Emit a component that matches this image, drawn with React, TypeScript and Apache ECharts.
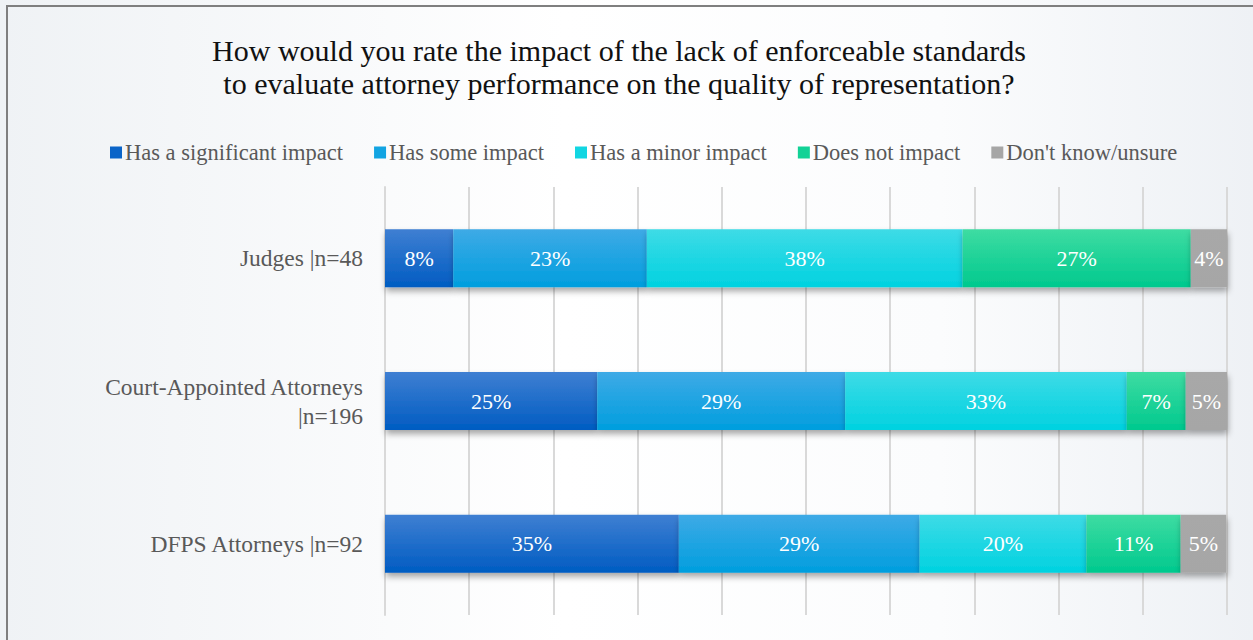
import React, { useEffect, useRef } from "react";
import * as echarts from "echarts";

const categories = ["Judges |n=48", "Court-Appointed Attorneys\n|n=196", "DFPS Attorneys |n=92"];
const seriesNames = ["Has a significant impact", "Has some impact", "Has a minor impact", "Does not impact", "Don't know/unsure"];
const significant = [8.1, 25.2, 34.9];
const some = [23.0, 29.45, 28.6];
const minor = [37.5, 33.45, 19.8];
const notImpact = [27.1, 7.0, 11.2];
const unsure = [4.3, 4.9, 5.4];
const seriesValues = [significant, some, minor, notImpact, unsure];
const titleLines = ["How would you rate the impact of the lack of enforceable standards", "to evaluate attorney performance on the quality of representation?"];

const colorsTop = ["#3f7fd2", "#3eaae6", "#3edbe6", "#3edca2", "#a8a8a8"];
const colorsBottom = ["#005cc2", "#009ede", "#00d2e0", "#00c98e", "#a6a6a6"];
const legendColors = ["#0a64c8", "#12a4e2", "#12d6e2", "#12d296", "#a6a6a6"];

const FONT = "'Liberation Serif', 'Times New Roman', serif";

export default function App() {
  const ref = useRef<HTMLDivElement>(null);
  useEffect(() => {
    if (!ref.current) return;
    const chart = echarts.init(ref.current, undefined, { renderer: "svg" });
    const series = seriesNames.map((name, i) => ({
      name,
      type: "bar",
      stack: "total",
      barWidth: 58,
      data: seriesValues[i],
      itemStyle: {
        color: new echarts.graphic.LinearGradient(0, 0, 0, 1, [
          { offset: 0, color: colorsTop[i] },
          { offset: 1, color: colorsBottom[i] },
        ]),
        shadowBlur: 6,
        shadowOffsetY: 4,
        shadowOffsetX: 1,
        shadowColor: "rgba(0,0,0,0.35)",
      },
      label: {
        show: true,
        position: "inside",
        color: "#ffffff",
        fontFamily: FONT,
        fontSize: 22,
        formatter: (p: any) => Math.round(p.value) + "%",
      },
    }));
    chart.setOption({
      animation: false,
      backgroundColor: new echarts.graphic.LinearGradient(0, 0, 1, 0, [
        { offset: 0, color: "#eff2f5" },
        { offset: 0.45, color: "#ffffff" },
        { offset: 0.75, color: "#fbfcfd" },
        { offset: 1, color: "#eef1f5" },
      ]),
      graphic: [
        {
          type: "rect",
          shape: { x: 7, y: 6, width: 1400, height: 800 },
          style: { fill: "none", stroke: "#7f7f7f", lineWidth: 2 },
          silent: true,
          z: 100,
        },
        {
          type: "text",
          x: 619,
          y: 34,
          style: {
            text: titleLines.join("\n"),
            fontFamily: FONT,
            fontSize: 30,
            lineHeight: 33,
            fill: "#111111",
            textAlign: "center",
          },
        },
      ],
      legend: {
        data: seriesNames.map((n, i) => ({ name: n, itemStyle: { color: legendColors[i] } })),
        top: 136,
        left: 105,
        itemWidth: 12,
        itemHeight: 12,
        itemGap: 31,
        icon: "rect",
        textStyle: { fontFamily: FONT, fontSize: 22.5, color: "#595959", padding: [0, 0, 0, -2] },
      },
      grid: { left: 385, right: 26, top: 187, bottom: 25, containLabel: false },
      xAxis: {
        type: "value",
        min: 0,
        max: 100,
        interval: 10,
        axisLabel: { show: false },
        axisLine: { show: false },
        axisTick: { show: false },
        splitLine: { show: true, lineStyle: { color: "#d9d9d9", width: 2 } },
      },
      yAxis: {
        type: "category",
        inverse: true,
        data: categories,
        axisTick: { show: false },
        axisLine: { show: true, lineStyle: { color: "#d9d9d9", width: 2 } },
        axisLabel: {
          fontFamily: FONT,
          fontSize: 23.5,
          color: "#595959",
          margin: 22,
          lineHeight: 29,
          align: "right",
        },
      },
      series,
    });
    return () => chart.dispose();
  }, []);
  return <div ref={ref} style={{ position: "fixed", left: 0, top: 0, width: 1253, height: 640 }} />;
}
